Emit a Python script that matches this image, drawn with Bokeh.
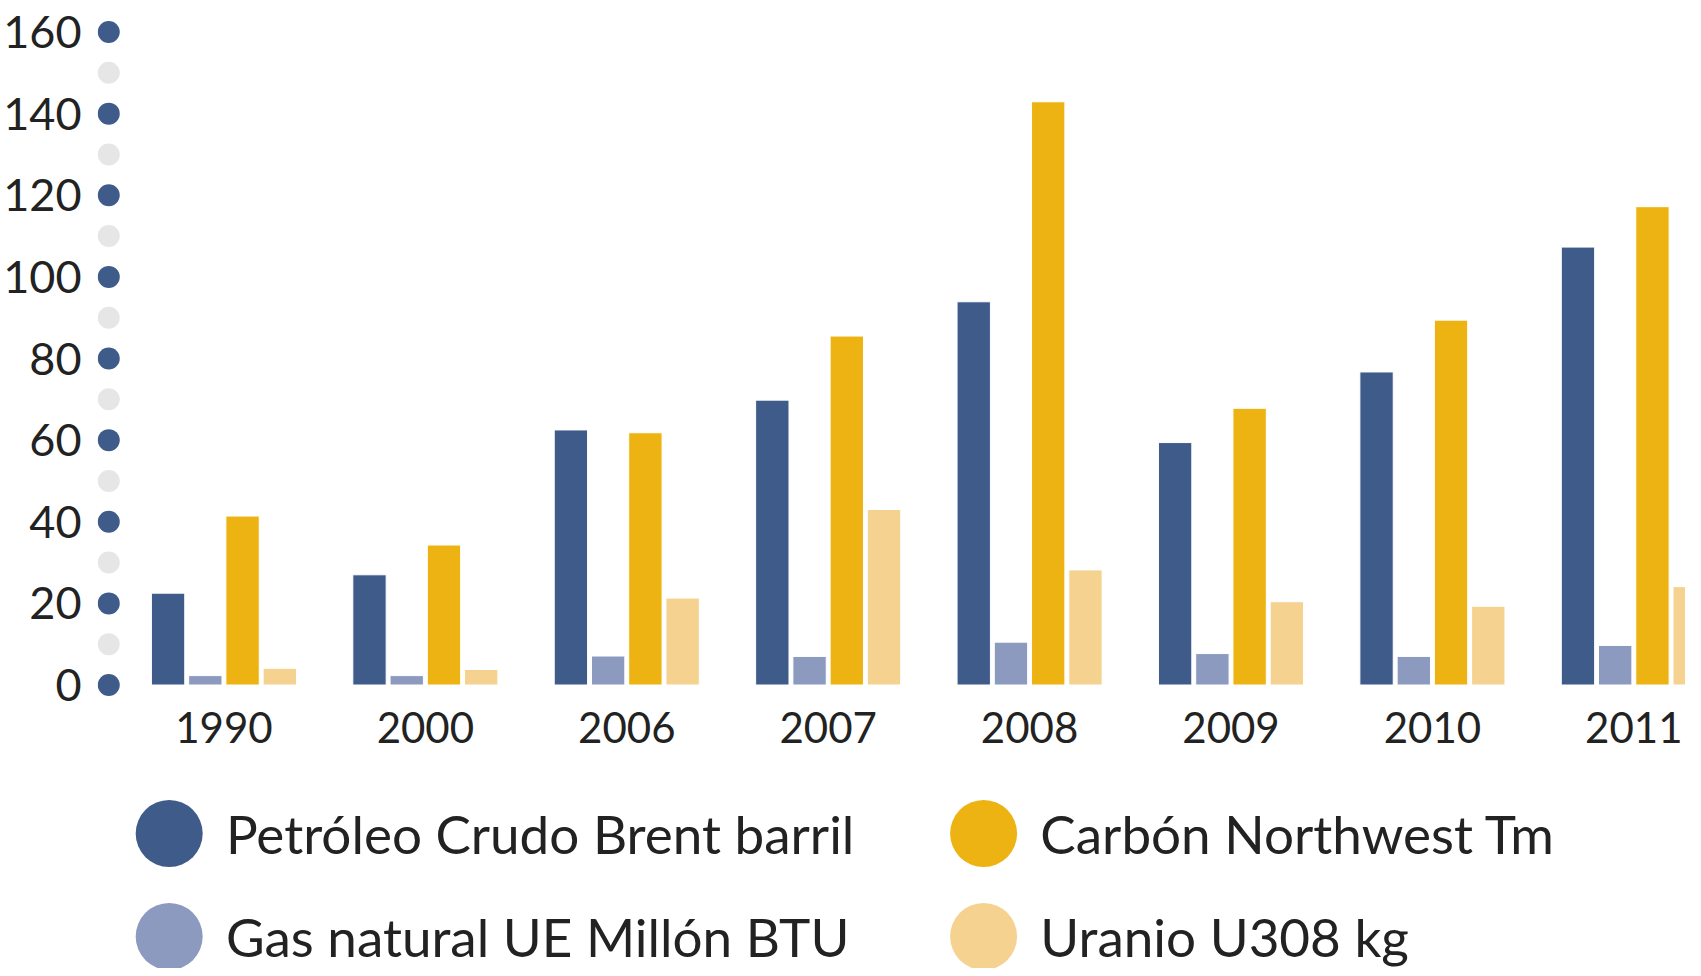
from bokeh.plotting import figure
from bokeh.models import ColumnDataSource, Range1d, FixedTicker
from bokeh.layouts import column
from bokeh.transform import dodge
from bokeh.embed import file_html
from bokeh.resources import INLINE
from bokeh.core.properties import value

# ---------------- data ----------------
years = ["1990", "2000", "2006", "2007", "2008", "2009", "2010", "2011"]
series_names = [
    "Petróleo Crudo Brent barril",
    "Gas natural UE Millón BTU",
    "Carbón Northwest Tm",
    "Uranio U308 kg",
]
petroleo = [22.5, 27.0, 62.5, 69.8, 93.9, 59.4, 76.7, 107.3]
gas = [2.3, 2.3, 7.1, 7.0, 10.5, 7.7, 7.0, 9.7]
carbon = [41.4, 34.3, 61.8, 85.5, 142.9, 67.8, 89.4, 117.2]
uranio = [4.1, 3.8, 21.3, 43.0, 28.2, 20.4, 19.3, 24.1]
y_ticks = [0, 20, 40, 60, 80, 100, 120, 140, 160]
y_half_ticks = [10, 30, 50, 70, 90, 110, 130, 150]

colors = ["#3e5b8a", "#8b9abe", "#edb313", "#f5d290"]
text_color = "#222222"
FONT = "Lato"

# ---------------- main chart ----------------
W = 1685
TOP = 8
PX_PER_UNIT = 4.08125
FRAME_H = 689
BOTTOM = 61
H_MAIN = TOP + FRAME_H + BOTTOM
Y_MAX = 160 + 23.5 / PX_PER_UNIT
Y_MIN = Y_MAX - FRAME_H / PX_PER_UNIT

GROUP_PX = 202.3
G0 = 217.0
LEFT = 90
X_START = (LEFT - G0) / GROUP_PX
X_END = (W - G0) / GROUP_PX

idx = list(range(len(years)))
src = ColumnDataSource(dict(x=idx, petroleo=petroleo, gas=gas, carbon=carbon, uranio=uranio))

p = figure(width=W, height=H_MAIN, output_backend="svg", toolbar_location=None,
           x_range=Range1d(X_START, X_END), y_range=Range1d(Y_MIN, Y_MAX),
           min_border_left=LEFT, min_border_right=0, min_border_top=TOP,
           min_border_bottom=BOTTOM)
p.outline_line_color = None
p.grid.grid_line_color = None
p.background_fill_color = "white"
p.border_fill_color = "white"

step = 0.1849
bw = 0.1656
cols = ["petroleo", "gas", "carbon", "uranio"]
for k, c in enumerate(cols):
    off = (k - 1.5) * step
    p.vbar(x=dodge("x", off, range=p.x_range), top=c, bottom=0, width=bw,
           source=src, fill_color=colors[k], line_color="white", line_width=1)

DOT_X = (101.3 - G0) / GROUP_PX
p.scatter(x=[DOT_X] * len(y_half_ticks), y=y_half_ticks, size=22,
          fill_color="#e6e6e6", line_color=None)
p.scatter(x=[DOT_X] * len(y_ticks), y=y_ticks, size=22,
          fill_color=colors[0], line_color=None)

yax = p.yaxis[0]
yax.ticker = FixedTicker(ticks=y_ticks)
yax.axis_line_color = None
yax.major_tick_line_color = None
yax.minor_tick_line_color = None
yax.major_label_standoff = 10
yax.major_label_text_font = FONT
yax.major_label_text_font_size = "45px"
yax.major_label_text_color = text_color

xax = p.xaxis[0]
xax.ticker = FixedTicker(ticks=idx)
xax.major_label_overrides = {i: y for i, y in enumerate(years)}
xax.axis_line_color = None
xax.major_tick_line_color = None
xax.minor_tick_line_color = None
xax.major_label_standoff = 8
xax.major_label_text_font = FONT
xax.major_label_text_font_size = "42px"
xax.major_label_text_color = text_color

# ---------------- legend ----------------
H_LEG = 968 - H_MAIN
leg = figure(width=W, height=H_LEG, output_backend="svg", toolbar_location=None,
             x_range=Range1d(LEFT, W), y_range=Range1d(H_LEG, 0),
             min_border_left=LEFT, min_border_right=0, min_border_top=0,
             min_border_bottom=0, x_axis_type=None, y_axis_type=None)
leg.outline_line_color = None
leg.grid.grid_line_color = None
leg.background_fill_color = "white"
leg.border_fill_color = "white"

col_x = [162.0, 980.0]
row_y = [75, 178]
lx, ly, lt, lc = [], [], [], []
for k, name in enumerate(series_names):
    cidx, ridx = k // 2, k % 2
    lx.append(col_x[cidx])
    ly.append(row_y[ridx])
    lt.append(name)
    lc.append(colors[k])
lsrc = ColumnDataSource(dict(x=lx, y=ly, tx=[v + 57 for v in lx], t=lt, c=lc))
leg.scatter(x="x", y="y", size=67, fill_color="c", line_color=None, source=lsrc)
leg.text(x="tx", y="y", text="t", source=lsrc, text_font=value(FONT),
         text_font_size="53px", text_baseline="middle", text_align="left",
         text_color=text_color)

layout = column(p, leg, spacing=0)
open("out.html", "w").write(file_html(layout, INLINE))
